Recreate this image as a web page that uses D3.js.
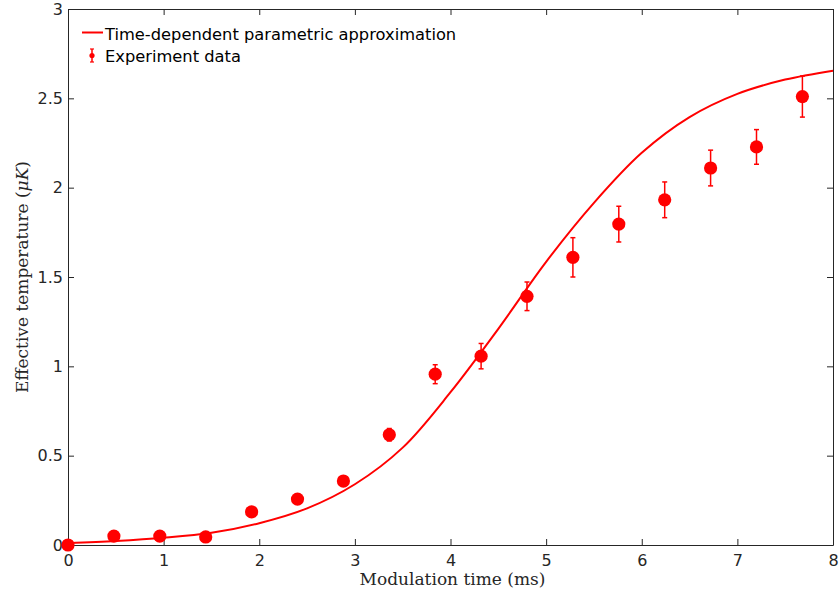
<!DOCTYPE html>
<html>
<head>
<meta charset="utf-8">
<script src="https://cdn.jsdelivr.net/npm/d3@7"></script>
<style>
  body { margin: 0; background: #fff; }
  .tick text { font-family: "DejaVu Sans", sans-serif; font-size: 16px; fill: #262626; }
  .axisLabel { font-family: "DejaVu Serif", "Liberation Serif", serif; font-size: 17px; fill: #262626; }
  .legendText { font-family: "DejaVu Sans", sans-serif; font-size: 16.3px; fill: #000; }
</style>
</head>
<body>
<div id="chart"></div>
<script>
// measured points
var timeMs = [0, 0.48, 0.96, 1.44, 1.92, 2.40, 2.88, 3.36, 3.84, 4.32, 4.80, 5.28, 5.76, 6.24, 6.72, 7.20, 7.68];
var tempUK = [0.0, 0.05, 0.05, 0.045, 0.185, 0.257, 0.358, 0.617, 0.956, 1.057, 1.392, 1.61, 1.796, 1.932, 2.11, 2.228, 2.51];
var tempErr = [0.01, 0.01, 0.01, 0.01, 0.01, 0.01, 0.015, 0.035, 0.053, 0.071, 0.08, 0.11, 0.1, 0.1, 0.1, 0.097, 0.115];

// fitted curve
var fitTime = [0, 0.5, 1, 1.5, 2, 2.5, 3, 3.5, 4, 4.5, 5, 5.5, 6, 6.5, 7, 7.5, 8];
var fitTemp = [0.01, 0.022, 0.04, 0.068, 0.122, 0.205, 0.34, 0.545, 0.855, 1.21, 1.585, 1.915, 2.195, 2.395, 2.525, 2.605, 2.655];

var xTicks = [0, 1, 2, 3, 4, 5, 6, 7, 8];
var yTicks = [0, 0.5, 1, 1.5, 2, 2.5, 3];

var svgWidth = 839;
var svgHeight = 598;
var margin = { top: 9, right: 6, bottom: 53, left: 68 };
var width = svgWidth - margin.left - margin.right;
var height = svgHeight - margin.top - margin.bottom;

var svg = d3.select("#chart")
  .append("svg")
  .attr("width", svgWidth)
  .attr("height", svgHeight);

var chartGroup = svg.append("g")
  .attr("transform", `translate(${margin.left}, ${margin.top})`);

var xScale = d3.scaleLinear().domain([0, 8]).range([0, width]);
var yScale = d3.scaleLinear().domain([0, 3]).range([height, 0]);

var axisColor = "#262626";

// axes with inward ticks on all four sides (box on)
var bottomAxis = d3.axisBottom(xScale).tickValues(xTicks).tickSizeInner(-6).tickSizeOuter(0).tickPadding(10);
var topAxis = d3.axisTop(xScale).tickValues(xTicks).tickSizeInner(-6).tickSizeOuter(0).tickFormat("");
var leftAxis = d3.axisLeft(yScale).tickValues(yTicks).tickSizeInner(-6).tickSizeOuter(0).tickPadding(5).tickFormat(d3.format("~g"));
var rightAxis = d3.axisRight(yScale).tickValues(yTicks).tickSizeInner(-6).tickSizeOuter(0).tickFormat("");

function styleAxis(g) {
  g.select(".domain").attr("stroke", axisColor).attr("stroke-width", 1);
  g.selectAll(".tick line").attr("stroke", axisColor).attr("stroke-width", 1);
  g.selectAll(".tick text").attr("font-family", null).attr("font-size", null);
}

chartGroup.append("g").attr("transform", `translate(0, ${height})`).call(bottomAxis).call(styleAxis);
chartGroup.append("g").call(topAxis).call(styleAxis);
chartGroup.append("g").call(leftAxis).call(styleAxis);
chartGroup.append("g").attr("transform", `translate(${width}, 0)`).call(rightAxis).call(styleAxis);

// fitted curve
var line = d3.line()
  .x(function(d, i) { return xScale(fitTime[i]); })
  .y(function(d) { return yScale(d); })
  .curve(d3.curveCatmullRom.alpha(0.5));

chartGroup.append("path")
  .datum(fitTemp)
  .attr("d", line)
  .attr("fill", "none")
  .attr("stroke", "#ff0000")
  .attr("stroke-width", 2);

// error bars + markers
var points = timeMs.map(function(t, i) { return { t: t, v: tempUK[i], e: tempErr[i] }; });

var blocks = chartGroup.selectAll(".pt")
  .data(points)
  .enter()
  .append("g")
  .attr("class", "pt");

blocks.append("line")
  .attr("x1", d => xScale(d.t)).attr("x2", d => xScale(d.t))
  .attr("y1", d => yScale(d.v - d.e)).attr("y2", d => yScale(d.v + d.e))
  .attr("stroke", "#ff0000").attr("stroke-width", 1.5);

[-1, 1].forEach(function(s) {
  blocks.append("line")
    .attr("x1", d => xScale(d.t) - 2.5).attr("x2", d => xScale(d.t) + 2.5)
    .attr("y1", d => yScale(d.v + s * d.e)).attr("y2", d => yScale(d.v + s * d.e))
    .attr("stroke", "#ff0000").attr("stroke-width", 1.5);
});

blocks.append("circle")
  .attr("cx", d => xScale(d.t))
  .attr("cy", d => yScale(d.v))
  .attr("r", 6.6)
  .attr("fill", "#ff0000");

// legend
var legend = svg.append("g");
legend.append("line")
  .attr("x1", 82).attr("x2", 103).attr("y1", 32.5).attr("y2", 32.5)
  .attr("stroke", "#ff0000").attr("stroke-width", 2);
legend.append("text").attr("class", "legendText")
  .attr("x", 105).attr("y", 40)
  .text("Time-dependent parametric approximation");

legend.append("line")
  .attr("x1", 92).attr("x2", 92).attr("y1", 49).attr("y2", 62)
  .attr("stroke", "#ff0000").attr("stroke-width", 1.5);
[49, 62].forEach(function(y) {
  legend.append("line")
    .attr("x1", 90).attr("x2", 94).attr("y1", y).attr("y2", y)
    .attr("stroke", "#ff0000").attr("stroke-width", 1.2);
});
legend.append("circle").attr("cx", 92).attr("cy", 55.5).attr("r", 2.6).attr("fill", "#ff0000");
legend.append("text").attr("class", "legendText")
  .attr("x", 105).attr("y", 62)
  .text("Experiment data");

// axis labels
svg.append("text")
  .attr("class", "axisLabel")
  .attr("text-anchor", "middle")
  .attr("x", margin.left + width / 2 + 2)
  .attr("y", 585)
  .text("Modulation time (ms)");

var yLabel = svg.append("text")
  .attr("class", "axisLabel")
  .attr("text-anchor", "middle")
  .attr("transform", `translate(28, ${margin.top + height / 2}) rotate(-90)`);
yLabel.append("tspan").text("Effective temperature (");
yLabel.append("tspan").attr("font-style", "italic").text("\u03BCK");
yLabel.append("tspan").text(")");
</script>
</body>
</html>
